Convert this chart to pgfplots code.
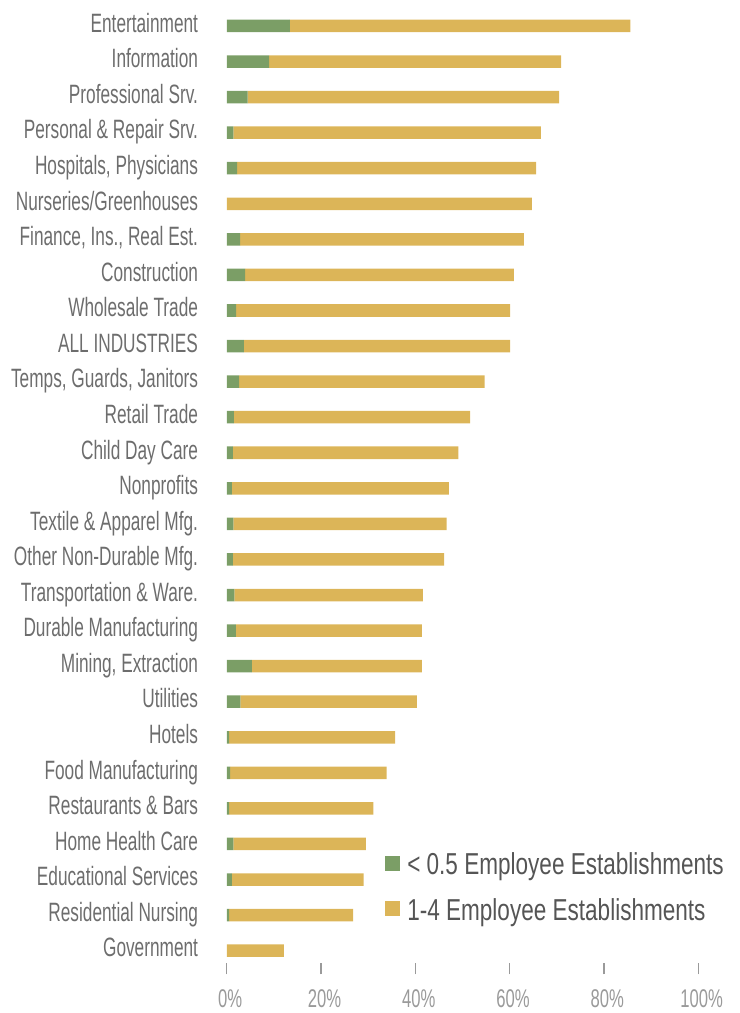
\documentclass[border=0pt]{standalone}
\usepackage{pgfplots}
\pgfplotsset{compat=1.18}
\usepackage{pgfplotstable}
\usepackage{fontspec}
\setmainfont{Liberation Sans}
\newfontfamily\labfont[FakeStretch=0.65]{Liberation Sans}
\newfontfamily\legfont[FakeStretch=0.745]{Liberation Sans}
\definecolor{cgreen}{HTML}{7B9E66}
\definecolor{cgold}{HTML}{DCB558}
\definecolor{labgray}{HTML}{6D6D6D}
\definecolor{tickgray}{HTML}{9A9A9A}
\definecolor{leggray}{HTML}{555555}
% y: 0 = Government (bottom) ... 26 = Entertainment (top)
\pgfplotstableread{
y small micro
26 13.4 72.2
25 9.0 61.9
24 4.4 66.1
23 1.4 65.2
22 2.2 63.4
21 0.0 64.7
20 2.8 60.2
19 3.9 57.0
18 2.0 58.1
17 3.6 56.5
16 2.6 52.1
15 1.5 50.1
14 1.3 47.8
13 1.1 46.0
12 1.4 45.2
11 1.3 44.8
10 1.6 40.0
9 1.9 39.5
8 5.3 36.1
7 2.9 37.4
6 0.5 35.2
5 0.7 33.2
4 0.5 30.6
3 1.4 28.1
2 1.1 27.9
1 0.5 26.3
0 0.0 12.1
}\datatable
\begin{document}
\begin{tikzpicture}
\useasboundingbox (0,0) rectangle (554.25pt,759.75pt);
\begin{axis}[
  at={(170.1pt,37.3pt)}, anchor=south west,
  scale only axis, width=353.6pt, height=716.3pt,
  xmin=0, xmax=100, ymin=-0.354, ymax=26.5,
  xbar stacked, bar width=9.4pt,
  axis line style={draw=none},
  clip=false,
  xtick={0,20,40,60,80,100},
  xtick pos=lower, xtick align=outside,
  xtick style={draw=tickgray, line width=0.9pt},
  major tick length=8.25pt,
  /pgf/number format/assume math mode=true,
  xticklabel={\pgfmathprintnumber{\tick}\%},
  xticklabel style={font=\labfont\fontsize{19.2}{22}\selectfont, text=tickgray, anchor=base, inner sep=0pt, yshift=-25.25pt, xshift=2.5pt},
  ytick={0,...,26},
  ytick style={draw=none},
  ytick pos=left,
  yticklabels={Government, Residential Nursing, Educational Services, Home Health Care, Restaurants \& Bars, Food Manufacturing, Hotels, Utilities, {Mining, Extraction}, Durable Manufacturing, Transportation \& Ware., Other Non-Durable Mfg., Textile \& Apparel Mfg., Nonprofits, Child Day Care, Retail Trade, {Temps, Guards, Janitors}, ALL INDUSTRIES, Wholesale Trade, Construction, {Finance, Ins., Real Est.}, Nurseries/Greenhouses, {Hospitals, Physicians}, Personal \& Repair Srv., Professional Srv., Information, Entertainment},
  yticklabel style={font=\labfont\fontsize{19.9}{23}\selectfont, text=labgray, anchor=base east, inner sep=0pt, xshift=-21.4pt, yshift=-4.7pt},
  legend cell align=left,
  legend image code/.code={\fill[#1] (0pt,-4.8pt) rectangle (11.25pt,6.45pt);},
  legend style={at={(0.334,0.1163)}, anchor=north west, draw=none, fill=none, inner sep=0pt,
    font=\legfont\fontsize{22.7}{27}\selectfont, text=leggray,
    nodes={inner sep=0pt}, row sep=16.3pt,
    /tikz/every odd column/.append style={column sep=5.8pt}},
]
\addplot[fill=cgreen, draw=none] table[x=small, y=y] {\datatable};
\addlegendentry{< 0.5 Employee Establishments}
\addplot[fill=cgold, draw=none] table[x=micro, y=y] {\datatable};
\addlegendentry{1-4 Employee Establishments}
\end{axis}
\end{tikzpicture}
\end{document}
